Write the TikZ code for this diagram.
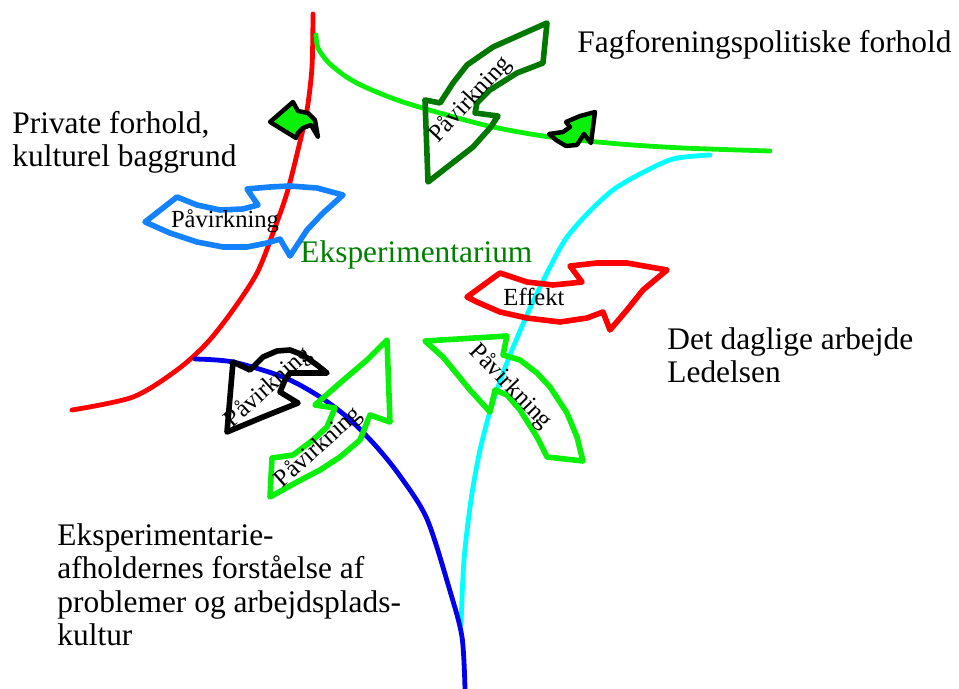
\documentclass[tikz,border=0pt]{standalone}
\usepackage{fontspec}
\setmainfont{Liberation Serif}
\usepackage{tikz}
\usetikzlibrary{positioning}
\definecolor{lgreen}{RGB}{10,240,10}
\definecolor{dgreen}{RGB}{0,120,0}
\definecolor{tgreen}{RGB}{0,128,0}
\definecolor{lblue}{RGB}{20,130,255}
\definecolor{dblue}{RGB}{0,0,235}
\definecolor{lcyan}{RGB}{0,255,255}
\definecolor{lred}{RGB}{255,0,0}
\newcommand{\biglbl}{\fontsize{15.7}{16.8}\selectfont}
\newcommand{\smalllbl}{\fontsize{12.3}{14}\selectfont}
\begin{document}
\begin{tikzpicture}[x=0.5pt, y=-0.5pt,
  lbl/.style={font=\biglbl, align=left, anchor=base west, inner sep=0pt},
  tag/.style={font=\smalllbl, anchor=base, inner sep=0pt},
  curve/.style={line width=2.4pt, line cap=round},
  pil/.style={line width=2.8pt, line join=round},
  mini/.style={draw=black, fill=lgreen, line width=2.2pt, line join=round}]
\useasboundingbox (0,0) rectangle (959,689);
\draw[curve, lred] plot[smooth] coordinates {(313,14) (312,67) (307,110) (298,150) (287,193) (273,233) (257,273) (233,310) (207,343) (177,370) (133,397) (72,410)};
\draw[curve, lgreen] plot[smooth] coordinates {(316,35) (318,48) (328,62) (345,76) (365,87) (400,101) (447,115) (493,127) (550,137) (620,144) (683,148) (770,151)};
\draw[curve, lcyan] plot[smooth] coordinates {(710,155) (673,159) (640,174) (613,190) (588,213) (565,240) (545,277) (527,315) (508,360) (492,405) (480,450) (471,500) (464,560) (461,625)};
\draw[curve, dblue] plot[smooth] coordinates {(195,359) (233,362) (283,377) (317,395) (347,417) (375,445) (400,476) (427,519) (450,591) (462,637) (465,689)};
\draw[pil, dgreen] (547,23) -- (543,63) -- (517,73) -- (490,90) -- (477,103) -- (475,113) -- (498,116) -- (490,128) -- (473,147) -- (428,182) -- (425,100) -- (440,103) -- (453,83) -- (467,65) -- (493,47) -- cycle;
\draw[pil, lblue] (145,222) -- (177,197) -- (197,205) -- (220,210) -- (243,209) -- (258,205) -- (247,189) -- (270,187) -- (290,186) -- (317,188) -- (343,195) -- (323,213) -- (307,230) -- (290,256) -- (280,239) -- (267,243) -- (247,247) -- (223,247) -- (197,242) -- (170,233) -- cycle;
\draw[pil, black] (227,432) -- (233,362) -- (250,370) -- (263,357) -- (277,351) -- (290,350) -- (303,355) -- (317,365) -- (327,373) -- (290,373) -- (285,380) -- (280,392) -- (298,403) -- (263,417) -- cycle;
\draw[pil, lgreen] (387,340) -- (390,422) -- (370,415) -- (360,440) -- (340,457) -- (320,470) -- (297,482) -- (270,497) -- (272,458) -- (293,455) -- (313,440) -- (327,427) -- (335,408) -- (315,405) -- (340,383) -- (367,360) -- cycle;
\draw[pil, lred] (467,297) -- (500,273) -- (527,282) -- (553,285) -- (573,283) -- (582,282) -- (570,266) -- (597,263) -- (627,263) -- (667,270) -- (643,290) -- (627,310) -- (610,330) -- (603,312) -- (587,318) -- (560,322) -- (527,318) -- (500,312) -- (477,302) -- cycle;
\draw[pil, lgreen] (425,341) -- (507,336) -- (503,355) -- (520,360) -- (537,373) -- (550,387) -- (567,413) -- (577,437) -- (583,461) -- (547,457) -- (537,437) -- (520,410) -- (507,395) -- (495,390) -- (490,412) -- (470,390) -- (443,357) -- cycle;
\draw[mini] (270,122) -- (293,102) -- (298,111) -- (308,113) -- (315,120) -- (318,137) -- (311,125) -- (303,128) -- (298,133) -- (296,138) -- (283,130) -- cycle;
\draw[mini] (595,112) -- (591,143) -- (584,134) -- (577,145) -- (566,146) -- (556,140) -- (549,134) -- (563,132) -- (570,127) -- (566,122) -- (580,116) -- cycle;
\node[lbl] (fag) at (577,53) {Fagforeningspolitiske forhold};
\node[lbl] (priv) at (12,167) {Private forhold,\\kulturel baggrund};
\node[lbl, text=tgreen] (eks) at (300,263) {Eksperimentarium};
\node[lbl] (daglig) at (667,383) {Det daglige arbejde\\Ledelsen};
\node[lbl] (afh) at (57,646) {Eksperimentarie-\\afholdernes forståelse af\\problemer og arbejdsplads-\\kultur};
\node[tag] (pv1) at (225,228) {Påvirkning};
\node[tag, rotate=47] (pv2) at (475,104) {Påvirkning};
\node[tag, rotate=42] (pv3) at (273,392) {Påvirkning};
\node[tag, rotate=42] (pv4) at (323,452) {Påvirkning};
\node[tag, rotate=-46] (pv5) at (506,391) {Påvirkning};
\node[tag] (eff) at (534,306) {Effekt};
\end{tikzpicture}
\end{document}
